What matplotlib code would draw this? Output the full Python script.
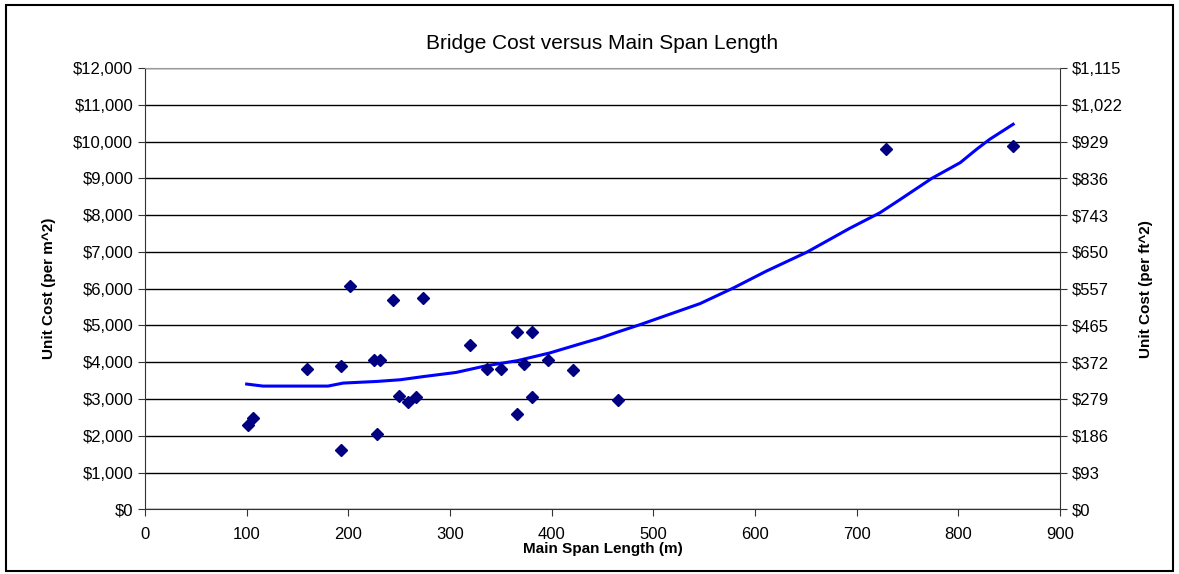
import numpy as np
import matplotlib
matplotlib.use("Agg")
import matplotlib.pyplot as plt
from matplotlib.ticker import FuncFormatter
from matplotlib.patches import Rectangle

plt.rcParams['font.family'] = ['Liberation Sans', 'DejaVu Sans']

# bridges: main span (m) and unit cost (per m^2)
span = [101.6, 106.5, 159.6, 192.5, 201.3, 192.5, 225, 231, 228, 244, 250, 259,
        266.5, 273.7, 319.7, 336, 350.5, 365.6, 380.3, 372.8, 396.7, 365.6,
        380.3, 420.7, 465, 728.5, 854]
cost = [2297, 2480, 3823, 3905, 6084, 1608, 4068, 4068, 2060, 5703, 3079, 2916,
        3041, 5738, 4477, 3815, 3815, 4812, 4812, 3951, 4060, 2589,
        3041, 3787, 2970, 9809, 9880]

# trend line
trend_x = [100, 116, 140, 180, 195, 228, 251, 274, 306, 335, 366, 398, 431,
           448, 464, 487, 546, 579, 611, 651, 693, 723, 743, 774, 802, 818,
           831, 854]
trend_y = [3406, 3351, 3351, 3351, 3433, 3477, 3523, 3610, 3722, 3900, 4041,
           4251, 4523, 4659, 4812, 5022, 5594, 6022, 6474, 6992, 7638, 8065,
           8428, 9000, 9428, 9790, 10063, 10471]

m2_per_ft2 = 10.7639
left_ticks = np.arange(0, 12001, 1000)

fig = plt.figure(figsize=(11.79, 5.74), dpi=100)
fig.patches.append(Rectangle((0.005, 0.006), 0.99, 0.985, transform=fig.transFigure,
                             fill=False, edgecolor='black', linewidth=1.5))
ax = fig.add_axes([0.123, 0.1127, 0.776, 0.7688])

ax.plot(trend_x, trend_y, color='#0000FF', linewidth=2.2, zorder=3)
ax.plot(span, cost, linestyle='none', marker='D', markersize=6.5,
        color='#000080', zorder=4)

ax.set_xlim(0, 900)
ax.set_ylim(0, 12000)
ax.set_xticks(range(0, 901, 100))
ax.set_yticks(left_ticks)
ax.yaxis.set_major_formatter(FuncFormatter(lambda v, p: '${:,.0f}'.format(v)))
ax.grid(axis='y', color='black', linewidth=1)
ax.set_axisbelow(True)
ax.tick_params(labelsize=12, direction='out', length=5, color='#333333')
ax.tick_params(axis='x', pad=8)
for s in ['left', 'bottom']:
    ax.spines[s].set_color('#333333')
ax.spines['top'].set_color('#999999')
ax.spines['right'].set_color('#333333')

ax.set_title('Bridge Cost versus Main Span Length', fontsize=15, pad=14)
ax.set_xlabel('Main Span Length (m)', fontsize=11, fontweight='bold', labelpad=0)
ax.set_ylabel('Unit Cost (per m^2)', fontsize=11, fontweight='bold', labelpad=12)

ax2 = ax.twinx()
ax2.set_ylim(0, 12000 / m2_per_ft2)
ax2.set_yticks(left_ticks / m2_per_ft2)
ax2.yaxis.set_major_formatter(FuncFormatter(lambda v, p: '${:,.0f}'.format(v)))
ax2.tick_params(labelsize=12, direction='out', length=5, color='#333333')
ax2.set_ylabel('Unit Cost (per ft^2)', fontsize=11, fontweight='bold', labelpad=12)
for s in ax2.spines.values():
    s.set_visible(False)

fig.savefig('out.png', dpi=100)
